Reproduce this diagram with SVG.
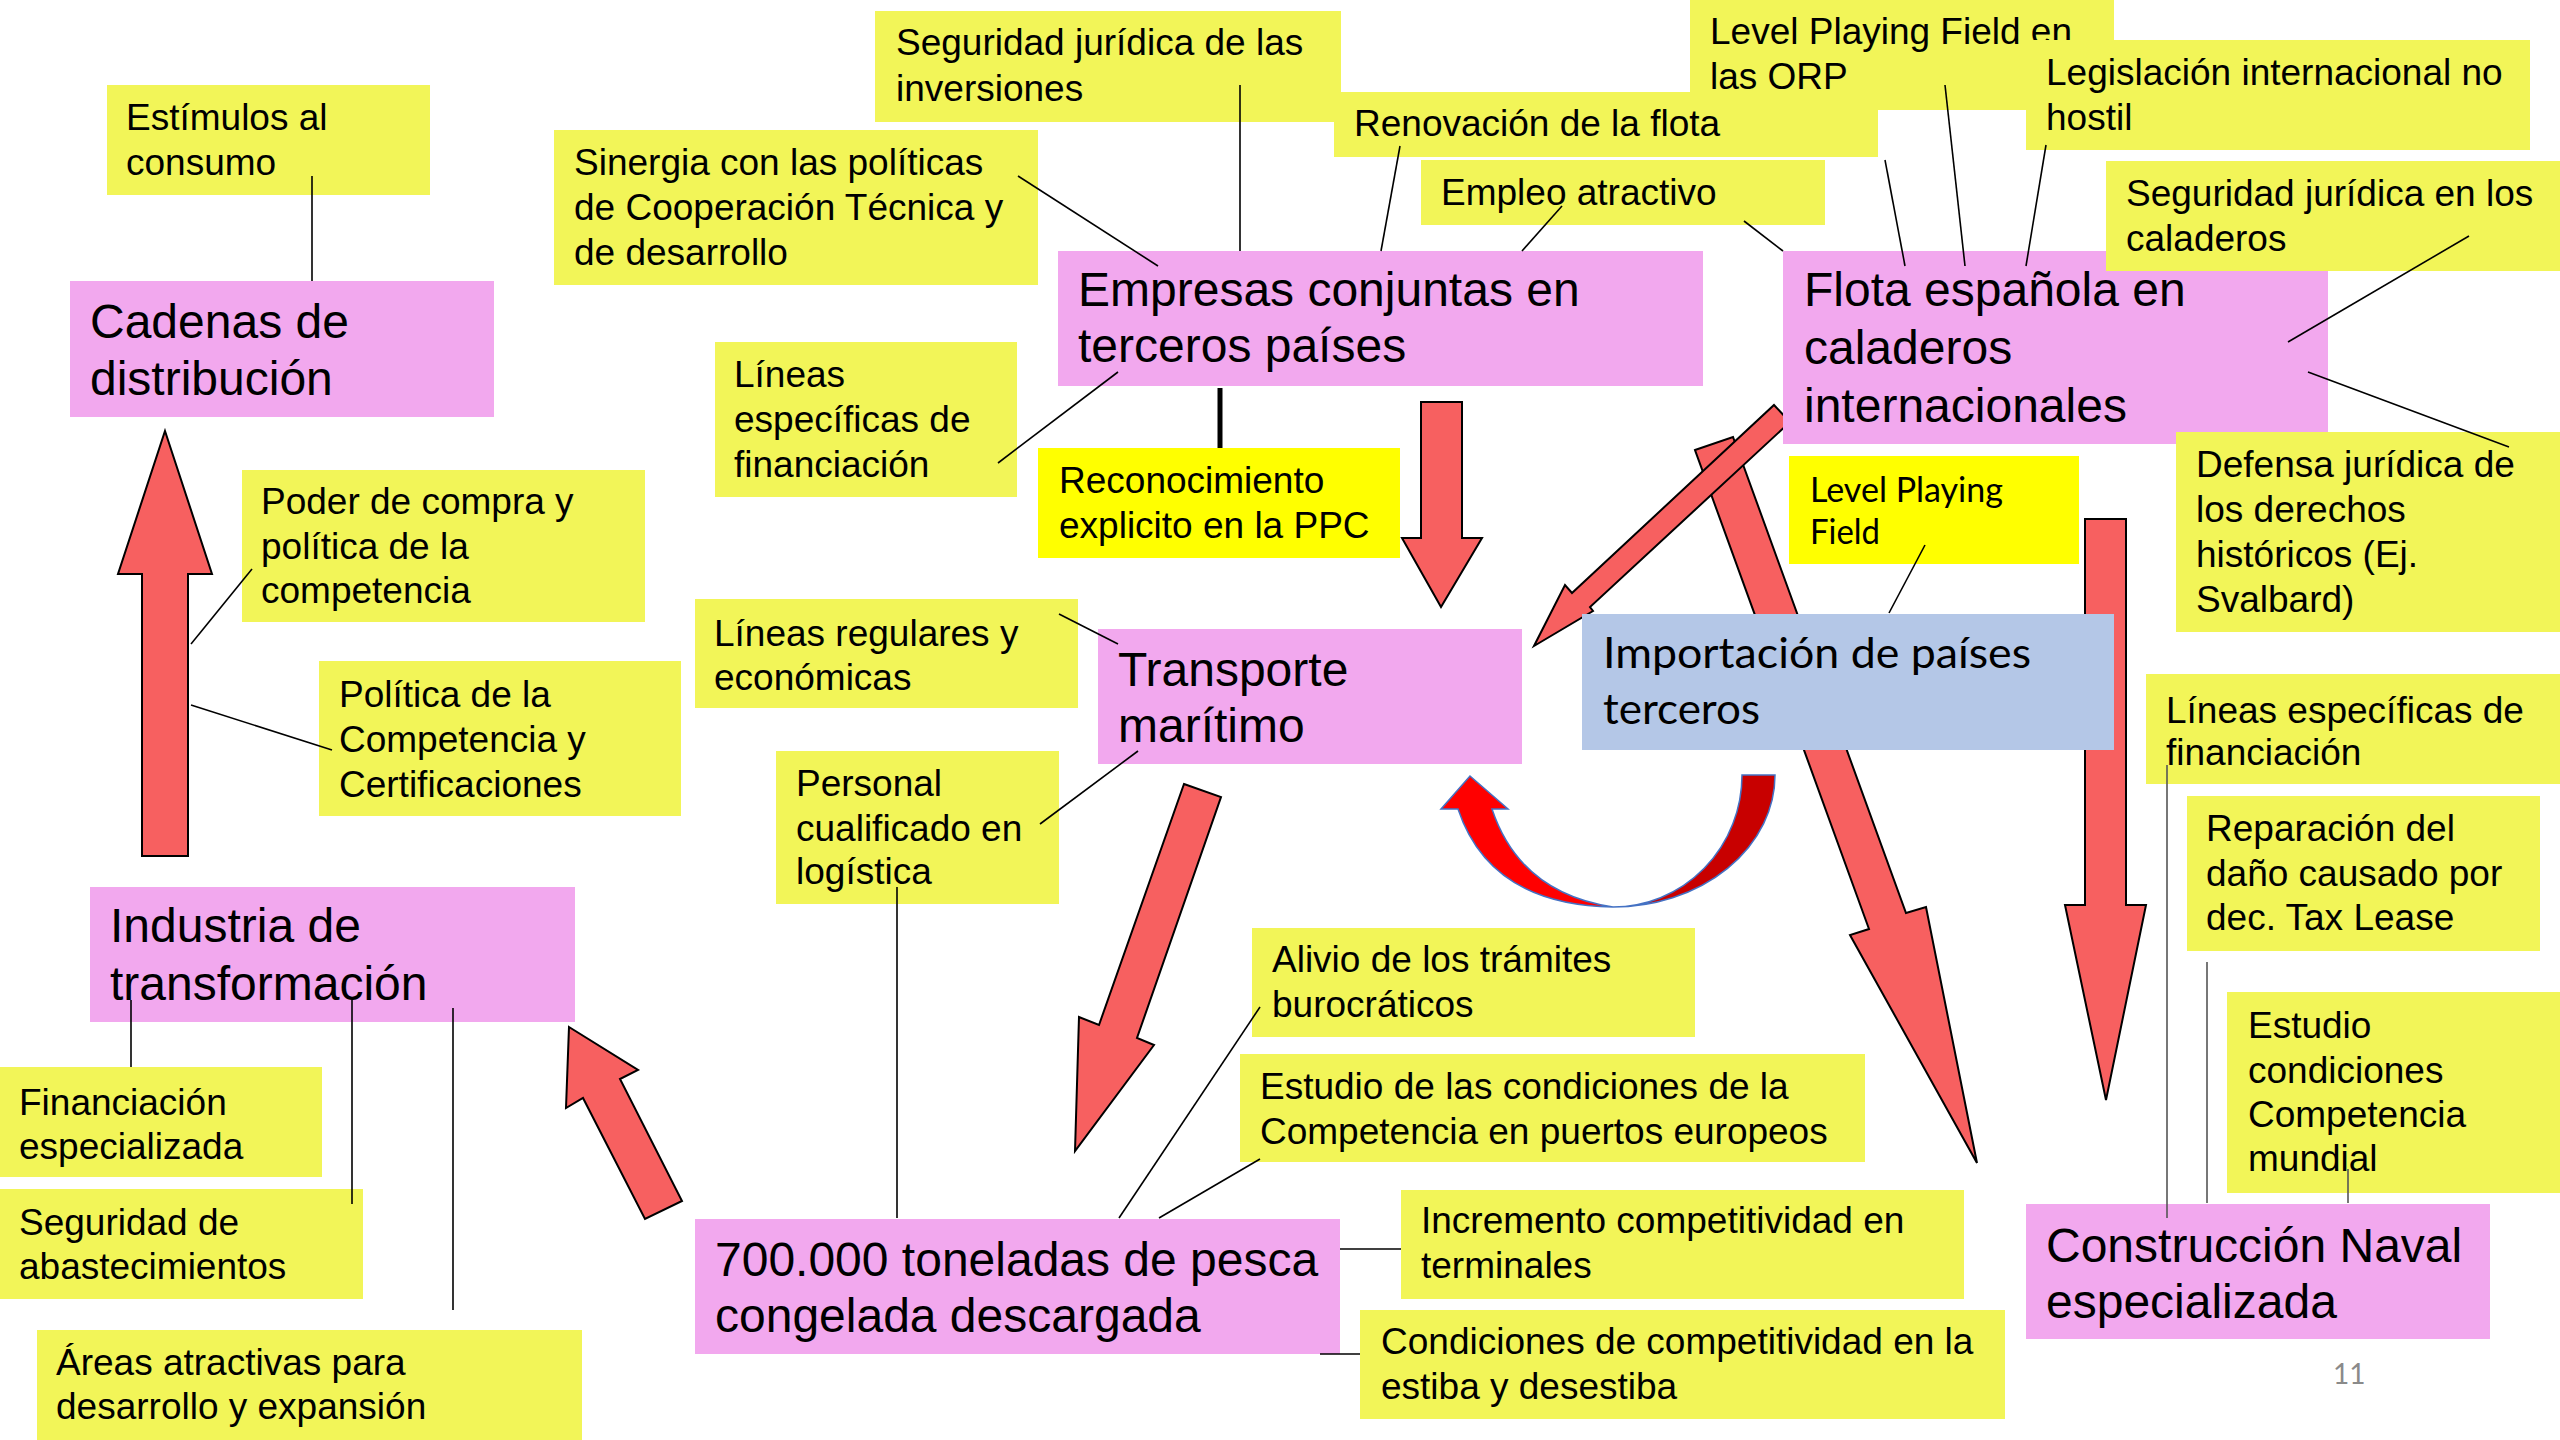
<svg xmlns="http://www.w3.org/2000/svg" width="2560" height="1440" viewBox="0 0 2560 1440">
<style>
.y{fill:#F2F558}
.yb{fill:#FFFF00}
.p{fill:#F2A8EE}
.b{fill:#B4C7E7}
text{font-family:"Liberation Sans",Arial,sans-serif;fill:#000}
.s{font-size:37px}
.m{font-size:48px}
.c{font-family:Lato,"Open Sans",sans-serif}
.ar{fill:#F76060;stroke:#000;stroke-width:2;stroke-linejoin:miter}
.ln{stroke:#000;stroke-width:1.6;fill:none}
.lg{stroke:#555;stroke-width:1.6;fill:none}
</style>
<rect width="2560" height="1440" fill="#FFFFFF"/>

<g id="arrows">
<polygon class="ar" points="1695,450 1733,437 1906,913 1926,907 1977,1163 1850,935 1869,929"/>
<polygon class="ar" points="2085,519 2126,519 2126,905 2146,905 2106,1100 2065,905 2085,905"/>
<polygon class="ar" points="165,431 212,574 188,574 188,856 142,856 142,574 118,574"/>
<polygon class="ar" points="1421,402 1462,402 1462,538 1482,538 1441,607 1402,538 1421,538"/>
<polygon class="ar" points="1184,784 1221,797 1137,1038 1154,1045 1075,1151 1079,1017 1099,1025"/>
<polygon class="ar" points="569,1027 638,1070 620,1079 682,1201 645,1219 583,1098 566,1108"/>
<polygon class="ar" points="1774,405 1790,422 1590,607 1593,611 1534,646 1565,585 1572,593"/>
<path d="M1470,776 L1508,809 L1492,809 Q1520,893 1613,907 Q1490,905 1458,809 L1441,809 Z" fill="#FF0000" stroke="#4472C4" stroke-width="1.5"/>
<path d="M1613,907 A129,132 0 0 0 1742,775 L1775,775 A162,132 0 0 1 1613,907 Z" fill="#C80000" stroke="#4472C4" stroke-width="1.5"/>
</g>

<g id="n-orp"><rect class="y" x="1690" y="0" width="424" height="110"/><text class="s" x="1710" y="44">Level Playing Field en</text><text class="s" x="1710" y="89">las ORP</text></g>
<g id="n-renovacion"><rect class="y" x="1334" y="92" width="544" height="65"/><text class="s" x="1354" y="136">Renovación de la flota</text></g>
<g id="n-legislacion"><rect class="y" x="2026" y="40" width="504" height="110"/><text class="s" x="2046" y="85">Legislación internacional no</text><text class="s" x="2046" y="130">hostil</text></g>
<g id="n-estimulos"><rect class="y" x="107" y="85" width="323" height="110"/><text class="s" x="126" y="130">Estímulos al</text><text class="s" x="126" y="175">consumo</text></g>
<g id="n-seg-inversiones"><rect class="y" x="875" y="11" width="466" height="111"/><text class="s" x="896" y="55">Seguridad jurídica de las</text><text class="s" x="896" y="101">inversiones</text></g>
<g id="n-sinergia"><rect class="y" x="554" y="130" width="484" height="155"/><text class="s" x="574" y="175">Sinergia con las políticas</text><text class="s" x="574" y="220">de Cooperación Técnica y</text><text class="s" x="574" y="265">de desarrollo</text></g>
<g id="n-empleo"><rect class="y" x="1421" y="160" width="404" height="65"/><text class="s" x="1441" y="205">Empleo atractivo</text></g>
<g id="n-flota"><rect class="p" x="1783" y="251" width="545" height="193"/><text class="m" x="1804" y="306">Flota española en</text><text class="m" x="1804" y="364">caladeros</text><text class="m" x="1804" y="422">internacionales</text></g>
<g id="n-seg-caladeros"><rect class="y" x="2106" y="161" width="454" height="110"/><text class="s" x="2126" y="206">Seguridad jurídica en los</text><text class="s" x="2126" y="251">caladeros</text></g>
<g id="n-defensa"><rect class="y" x="2176" y="432" width="384" height="200"/><text class="s" x="2196" y="477">Defensa jurídica de</text><text class="s" x="2196" y="522">los derechos</text><text class="s" x="2196" y="567">históricos (Ej.</text><text class="s" x="2196" y="612">Svalbard)</text></g>
<g id="n-cadenas"><rect class="p" x="70" y="281" width="424" height="136"/><text class="m" x="90" y="338">Cadenas de</text><text class="m" x="90" y="395">distribución</text></g>
<g id="n-empresas"><rect class="p" x="1058" y="251" width="645" height="135"/><text class="m" x="1078" y="306">Empresas conjuntas en</text><text class="m" x="1078" y="362">terceros países</text></g>
<g id="n-lineas-esp"><rect class="y" x="715" y="342" width="302" height="155"/><text class="s" x="734" y="387">Líneas</text><text class="s" x="734" y="432">específicas de</text><text class="s" x="734" y="477">financiación</text></g>
<g id="n-reconocimiento"><rect class="yb" x="1038" y="448" width="362" height="110"/><text class="s" x="1059" y="493">Reconocimiento</text><text class="s" x="1059" y="538">explicito en la PPC</text></g>
<g id="n-lpf"><rect class="yb" x="1789" y="456" width="290" height="108"/><text class="c" font-size="35" x="1810" y="502" textLength="193" lengthAdjust="spacingAndGlyphs">Level Playing</text><text class="c" font-size="35" x="1810" y="544" textLength="70" lengthAdjust="spacingAndGlyphs">Field</text></g>
<g id="n-poder"><rect class="y" x="242" y="470" width="403" height="152"/><text class="s" x="261" y="514">Poder de compra y</text><text class="s" x="261" y="559">política de la</text><text class="s" x="261" y="603">competencia</text></g>
<g id="n-lineas-reg"><rect class="y" x="695" y="599" width="383" height="109"/><text class="s" x="714" y="646">Líneas regulares y</text><text class="s" x="714" y="690">económicas</text></g>
<g id="n-politica"><rect class="y" x="319" y="661" width="362" height="155"/><text class="s" x="339" y="707">Política de la</text><text class="s" x="339" y="752">Competencia y</text><text class="s" x="339" y="797">Certificaciones</text></g>
<g id="n-transporte"><rect class="p" x="1098" y="629" width="424" height="135"/><text class="m" x="1118" y="686">Transporte</text><text class="m" x="1118" y="742">marítimo</text></g>
<g id="n-importacion"><rect class="b" x="1582" y="614" width="532" height="136"/><text class="c" font-size="42" x="1603" y="668" textLength="428" lengthAdjust="spacingAndGlyphs">Importación de países</text><text class="c" font-size="42" x="1603" y="724" textLength="157" lengthAdjust="spacingAndGlyphs">terceros</text></g>
<g id="n-lineas-right"><rect class="y" x="2146" y="674" width="414" height="110"/><text class="s" x="2166" y="723">Líneas específicas de</text><text class="s" x="2166" y="765">financiación</text></g>
<g id="n-personal"><rect class="y" x="776" y="751" width="283" height="153"/><text class="s" x="796" y="796">Personal</text><text class="s" x="796" y="841">cualificado en</text><text class="s" x="796" y="884">logística</text></g>
<g id="n-reparacion"><rect class="y" x="2187" y="796" width="353" height="155"/><text class="s" x="2206" y="841">Reparación del</text><text class="s" x="2206" y="886">daño causado por</text><text class="s" x="2206" y="930">dec. Tax Lease</text></g>
<g id="n-industria"><rect class="p" x="90" y="887" width="485" height="135"/><text class="m" x="110" y="942">Industria de</text><text class="m" x="110" y="1000">transformación</text></g>
<g id="n-alivio"><rect class="y" x="1252" y="928" width="443" height="109"/><text class="s" x="1272" y="972">Alivio de los trámites</text><text class="s" x="1272" y="1017">burocráticos</text></g>
<g id="n-estudio-mundial"><rect class="y" x="2227" y="992" width="333" height="201"/><text class="s" x="2248" y="1038">Estudio</text><text class="s" x="2248" y="1083">condiciones</text><text class="s" x="2248" y="1127">Competencia</text><text class="s" x="2248" y="1171">mundial</text></g>
<g id="n-estudio-puertos"><rect class="y" x="1240" y="1054" width="625" height="108"/><text class="s" x="1260" y="1099">Estudio de las condiciones de la</text><text class="s" x="1260" y="1144">Competencia en puertos europeos</text></g>
<g id="n-financiacion"><rect class="y" x="0" y="1067" width="322" height="110"/><text class="s" x="19" y="1115">Financiación</text><text class="s" x="19" y="1159">especializada</text></g>
<g id="n-seg-abast"><rect class="y" x="0" y="1189" width="363" height="110"/><text class="s" x="19" y="1235">Seguridad de</text><text class="s" x="19" y="1279">abastecimientos</text></g>
<g id="n-incremento"><rect class="y" x="1401" y="1190" width="563" height="109"/><text class="s" x="1421" y="1233">Incremento competitividad en</text><text class="s" x="1421" y="1278">terminales</text></g>
<g id="n-construccion"><rect class="p" x="2026" y="1204" width="464" height="135"/><text class="m" x="2046" y="1262">Construcción Naval</text><text class="m" x="2046" y="1318">especializada</text></g>
<g id="n-700000"><rect class="p" x="695" y="1219" width="645" height="135"/><text class="m" x="715" y="1276">700.000 toneladas de pesca</text><text class="m" x="715" y="1332">congelada descargada</text></g>
<g id="n-condiciones"><rect class="y" x="1360" y="1310" width="645" height="109"/><text class="s" x="1381" y="1354">Condiciones de competitividad en la</text><text class="s" x="1381" y="1399">estiba y desestiba</text></g>
<g id="n-areas"><rect class="y" x="37" y="1330" width="545" height="110"/><text class="s" x="56" y="1375">Áreas atractivas para</text><text class="s" x="56" y="1419">desarrollo y expansión</text></g>

<g id="connectors">
<line class="ln" x1="312" y1="176" x2="312" y2="281"/>
<line class="ln" x1="1018" y1="176" x2="1158" y2="266"/>
<line class="ln" x1="1240" y1="85" x2="1240" y2="251"/>
<line class="ln" x1="1400" y1="146" x2="1381" y2="251"/>
<line class="ln" x1="1562" y1="206" x2="1522" y2="251"/>
<line class="ln" x1="998" y1="463" x2="1118" y2="372"/>
<line stroke="#000" stroke-width="5" x1="1220" y1="388" x2="1220" y2="448"/>
<line class="ln" x1="1744" y1="221" x2="1783" y2="251"/>
<line class="ln" x1="1885" y1="160" x2="1905" y2="266"/>
<line class="ln" x1="1945" y1="85" x2="1965" y2="266"/>
<line class="ln" x1="2046" y1="145" x2="2026" y2="266"/>
<line class="ln" x1="2469" y1="236" x2="2288" y2="342"/>
<line class="ln" x1="2308" y1="372" x2="2509" y2="447"/>
<line class="ln" x1="1925" y1="545" x2="1889" y2="613"/>
<line class="ln" x1="191" y1="644" x2="252" y2="569"/>
<line class="ln" x1="191" y1="705" x2="332" y2="750"/>
<line class="ln" x1="1059" y1="614" x2="1118" y2="644"/>
<line class="ln" x1="1040" y1="824" x2="1138" y2="751"/>
<line class="ln" x1="897" y1="887" x2="897" y2="1218"/>
<line class="ln" x1="131" y1="1000" x2="131" y2="1067"/>
<line class="ln" x1="352" y1="1000" x2="352" y2="1204"/>
<line class="ln" x1="453" y1="1008" x2="453" y2="1310"/>
<line class="ln" x1="1260" y1="1007" x2="1119" y2="1218"/>
<line class="ln" x1="1260" y1="1159" x2="1159" y2="1218"/>
<line class="ln" x1="1340" y1="1249" x2="1401" y2="1249"/>
<line class="ln" x1="1320" y1="1354" x2="1360" y2="1354"/>
<line class="lg" x1="2167" y1="765" x2="2167" y2="1218"/>
<line class="lg" x1="2207" y1="962" x2="2207" y2="1203"/>
<line class="lg" x1="2348" y1="1169" x2="2348" y2="1203"/>
</g>

<text id="page-number" class="c" font-size="28" fill="#8A8A8A" x="2333" y="1384" style="fill:#8A8A8A">11</text>
</svg>
